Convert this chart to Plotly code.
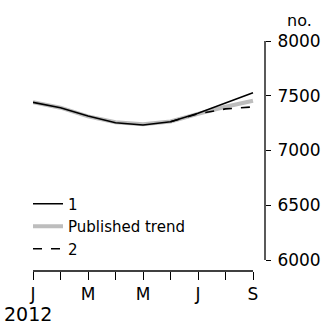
import plotly.graph_objects as go

months = ["J", "F", "M", "A", "M", "J", "J", "A", "S"]
tick_labels = ["J", "", "M", "", "M", "", "J", "", "S"]
series_1 = [7440, 7391, 7315, 7254, 7233, 7263, 7340, 7431, 7528]
published_trend = [7440, 7391, 7312, 7258, 7240, 7265, 7335, 7400, 7455]
series_2 = [None, None, None, None, None, 7263, 7335, 7380, 7398]
y_ticks = [6000, 6500, 7000, 7500, 8000]
year_label = "2012"

FONT = "DejaVu Sans"
x = list(range(len(months)))

fig = go.Figure()
fig.add_trace(go.Scatter(x=x, y=published_trend, name="Published trend", mode="lines",
                         legendrank=2, line=dict(color="#BDBDBD", width=4)))
fig.add_trace(go.Scatter(x=x, y=series_1, name="1", mode="lines",
                         legendrank=1, line=dict(color="black", width=1.6)))
fig.add_trace(go.Scatter(x=x, y=series_2, name="2", mode="lines",
                         legendrank=3, line=dict(color="black", width=1.6, dash="dash")))

n = len(months) - 1
x_max = n * 232 / 220

fig.update_layout(
    width=326, height=324,
    margin=dict(l=33, r=61, t=41, b=53, autoexpand=False),
    paper_bgcolor="white", plot_bgcolor="white",
    font=dict(family=FONT, color="black", size=16),
    legend=dict(xref="container", yref="container", x=28 / 326, y=1 - 187.5 / 324,
                xanchor="left", yanchor="top",
                traceorder="normal", bgcolor="rgba(0,0,0,0)",
                font=dict(size=15), itemwidth=30, tracegroupgap=0),
    xaxis=dict(range=[0, x_max], tickmode="array", tickvals=x, ticktext=tick_labels,
               ticks="outside", ticklen=8, tickcolor="black", tickwidth=1.3,
               showgrid=False, zeroline=False, showline=False, automargin=False,
               tickfont=dict(size=17)),
    yaxis=dict(range=[5900, 8000], side="right", tickmode="array", tickvals=y_ticks,
               ticks="outside", ticklen=5, tickcolor="black", tickwidth=1.3,
               showgrid=False, zeroline=False, showline=False, automargin=False,
               ticklabelstandoff=3, tickfont=dict(size=17), anchor="x"),
    showlegend=True,
)

# axis lines
fig.add_shape(type="line", xref="x", yref="paper", x0=0, x1=n, y0=0, y1=0,
              line=dict(color="black", width=1.3))
fig.add_shape(type="line", xref="paper", yref="y", x0=1, x1=1, y0=y_ticks[0], y1=y_ticks[-1],
              line=dict(color="black", width=1.3))

fig.add_annotation(text="no.", xref="paper", yref="paper", x=1.087, y=1.0, yshift=9,
                   xanchor="left", yanchor="bottom", showarrow=False,
                   font=dict(size=16, family=FONT))
fig.add_annotation(text=year_label, xref="paper", yref="paper", x=-0.134, y=0, yshift=-30,
                   xanchor="left", yanchor="top", showarrow=False,
                   font=dict(size=19, family=FONT))

fig.write_html("out.html", config={"displayModeBar": False},
               post_script="document.body.style.margin='0';")
